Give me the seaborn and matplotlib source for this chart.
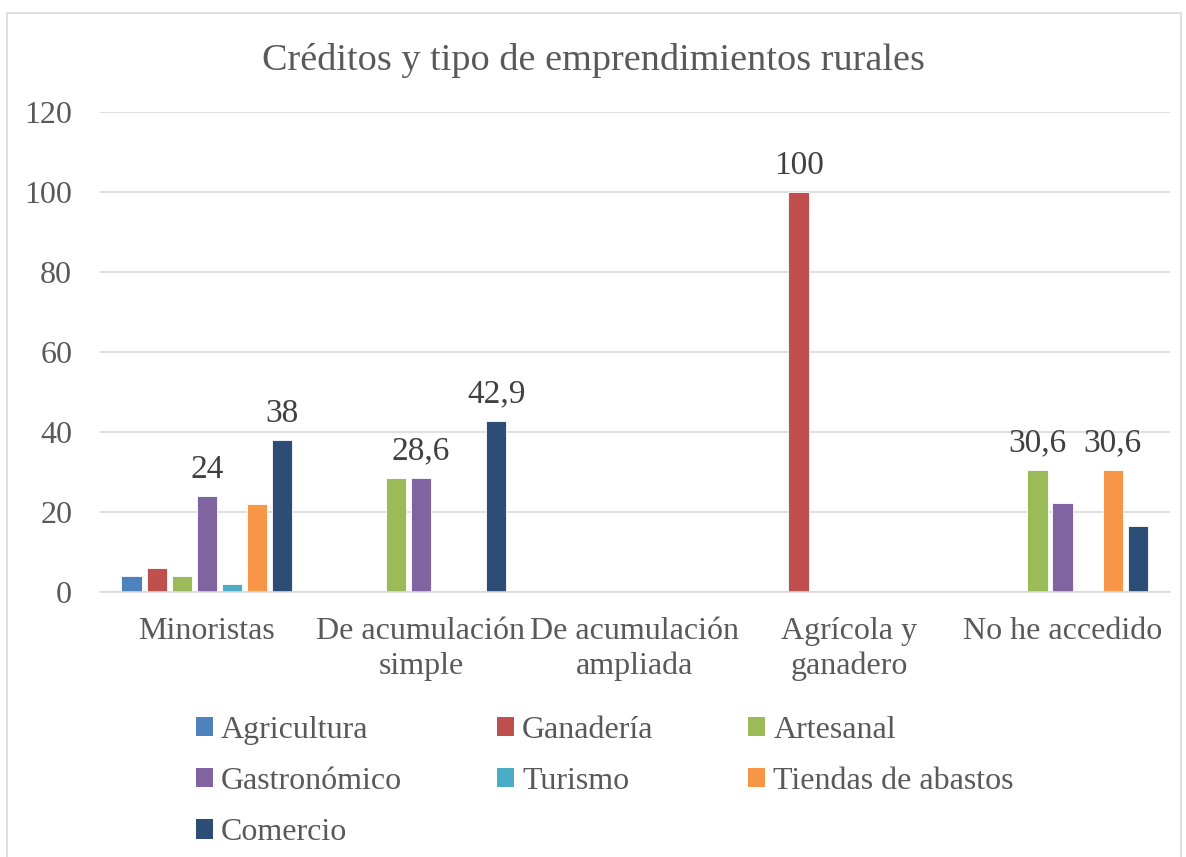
import numpy as np
import pandas as pd
import matplotlib
matplotlib.use("Agg")
import matplotlib.pyplot as plt
import seaborn as sns
from matplotlib.patches import Rectangle, Patch

categories = ["Minoristas", "De acumulación\nsimple", "De acumulación\nampliada",
              "Agrícola y\nganadero", "No he accedido"]
series = ["Agricultura", "Ganadería", "Artesanal", "Gastronómico",
          "Turismo", "Tiendas de abastos", "Comercio"]
colors = ["#4F81BD", "#C0504D", "#9BBB59", "#8064A2", "#4BACC6", "#F79646", "#2C4D75"]

# values per series, one per category (nan = no bar)
agricultura = [4, np.nan, np.nan, np.nan, np.nan]
ganaderia = [6, np.nan, np.nan, 100, np.nan]
artesanal = [4, 28.6, np.nan, np.nan, 30.6]
gastronomico = [24, 28.6, np.nan, np.nan, 22.2]
turismo = [2, np.nan, np.nan, np.nan, np.nan]
tiendas = [22, np.nan, np.nan, np.nan, 30.6]
comercio = [38, 42.9, np.nan, np.nan, 16.6]

# data labels shown in the chart (category index, series name) -> text
data_labels = {
    (0, "Gastronómico"): "24",
    (0, "Comercio"): "38",
    (1, "Gastronómico"): "28,6",
    (1, "Comercio"): "42,9",
    (3, "Ganadería"): "100",
    (4, "Artesanal"): "30,6",
    (4, "Tiendas de abastos"): "30,6",
}

values = [agricultura, ganaderia, artesanal, gastronomico, turismo, tiendas, comercio]
rows = []
for s, vals in zip(series, values):
    for c, v in zip(categories, vals):
        if not np.isnan(v):
            rows.append({"cat": c, "serie": s, "valor": v})
df = pd.DataFrame(rows)

sns.set_theme(style="white")
plt.rcParams["font.family"] = ["Liberation Serif", "DejaVu Serif"]
txt = "#595959"

fig = plt.figure(figsize=(11.86, 8.57), dpi=100)
ax = fig.add_axes([0.0843, 0.309, 0.902, 0.560])

sns.barplot(data=df, x="cat", y="valor", hue="serie", order=categories,
            hue_order=series, palette=colors, width=0.82, gap=0.18,
            errorbar=None, saturation=1, legend=False, ax=ax,
            edgecolor="white", linewidth=0.6)

ax.set_ylim(0, 120)
ax.set_yticks(range(0, 121, 20))
ax.set_xlim(-0.5, len(categories) - 0.5)
ax.yaxis.grid(True, color="#d9d9d9", linewidth=1.2)
ax.set_axisbelow(True)
for side in ["top", "right", "left"]:
    ax.spines[side].set_visible(False)
ax.spines["bottom"].set_color("#d9d9d9")
ax.spines["bottom"].set_linewidth(1.2)
ax.set_xlabel("")
ax.set_ylabel("")
ax.tick_params(axis="both", length=0, labelsize=23, colors=txt)
ax.tick_params(axis="y", pad=20)
ax.tick_params(axis="x", pad=18)
for lbl in ax.get_xticklabels():
    lbl.set_linespacing(1.25)

# data labels
for si, cont in enumerate(ax.containers):
    labs = []
    for bar in cont:
        ci = int(round(bar.get_x() + bar.get_width() / 2))
        labs.append(data_labels.get((ci, series[si]), ""))
    ax.bar_label(cont, labels=labs, padding=8, fontsize=24, color="#404040")

fig.text(0.5, 0.929, "Créditos y tipo de emprendimientos rurales",
         ha="center", va="center", fontsize=27.5, color=txt)

# legend, filled row by row like the original
handles = [Patch(facecolor=c, edgecolor="none") for c in colors]
order = [0, 3, 6, 1, 4, 2, 5]
leg = fig.legend([handles[i] for i in order], [series[i] for i in order],
                 ncol=3, loc="upper left", bbox_to_anchor=(0.165, 0.165),
                 frameon=False, fontsize=23, handlelength=0.55, handleheight=0.55,
                 handletextpad=0.25, columnspacing=2.95, labelspacing=0.7,
                 labelcolor=txt, borderaxespad=0, borderpad=0)

fig.patches.append(Rectangle((0.006, -0.02), 0.99, 1.005, transform=fig.transFigure,
                             fill=False, edgecolor="#d9d9d9", linewidth=1.2))

fig.savefig("out.png", dpi=100)
